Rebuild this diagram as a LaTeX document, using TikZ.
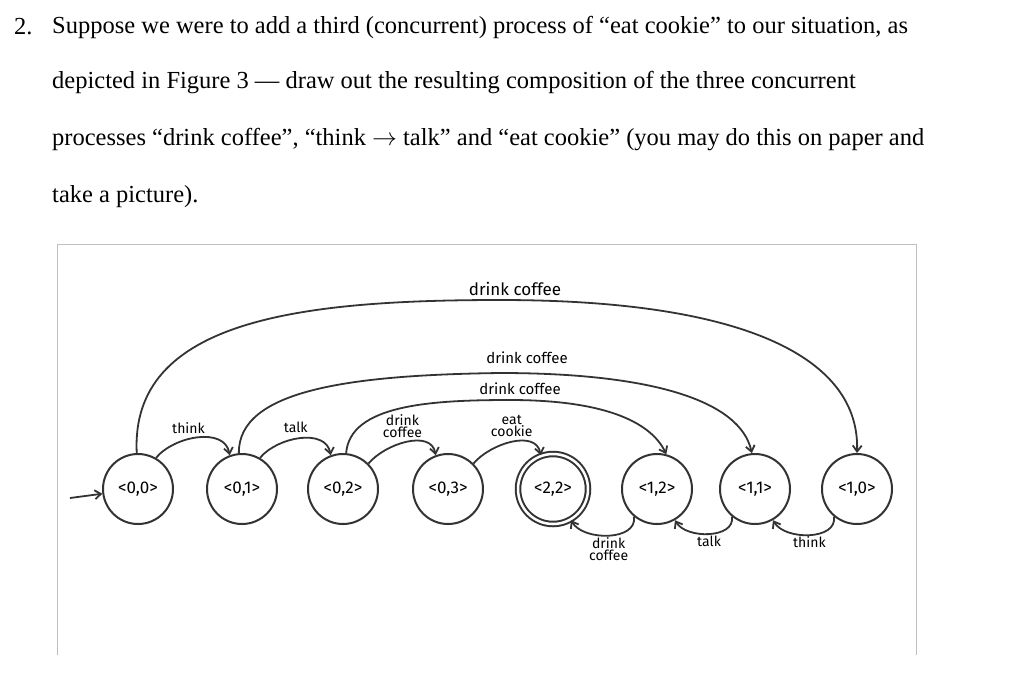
\documentclass[tikz,border=0pt]{standalone}
\usepackage{fontspec}
\setmainfont{Liberation Serif}
\newfontfamily\hand{Fira Sans}
\usetikzlibrary{arrows.meta}
\begin{document}
\begin{tikzpicture}[x=1pt,y=-1pt,
  st/.style={circle,draw=black!80,line width=2pt,minimum size=70pt,inner sep=0pt,font=\hand\fontsize{17}{17}\selectfont},
  acc/.style={st,double,double distance=2.5pt},
  ed/.style={draw=black!80,line width=1.8pt,-{Straight Barb[length=6pt,width=9pt]}},
  lb/.style={font=\hand\fontsize{14}{12}\selectfont,align=center,inner sep=1pt},
  tx/.style={anchor=west,font=\fontsize{24.5}{24.5}\selectfont,inner sep=0pt}]
\useasboundingbox (0,0) rectangle (1024,686);
\node[tx] (l0) at (14,27) {2.};
\node[tx] (l1) at (52,27) {Suppose we were to add a third (concurrent) process of “eat cookie” to our situation, as};
\node[tx] (l2) at (52,83) {depicted in Figure 3 — draw out the resulting composition of the three concurrent};
\node[tx] (l3) at (52,140) {processes “drink coffee”, “think \(\rightarrow\) talk” and “eat cookie” (you may do this on paper and};
\node[tx] (l4) at (52,197) {take a picture).};
\draw[black!25,line width=1pt] (57,655) -- (57,244) -- (916,244) -- (916,655);
\node[st] (a) at (138,489) {<0,0>};
\node[st] (b) at (242,489) {<0,1>};
\node[st] (c) at (343,489) {<0,2>};
\node[st] (d) at (448,489) {<0,3>};
\node[acc] (e) at (553,489) {<2,2>};
\node[st] (f) at (657,489) {<1,2>};
\node[st] (g) at (755,489) {<1,1>};
\node[st] (h) at (857,489) {<1,0>};
\coordinate (in) at (70,498);
\draw[ed] (in) -- (a);
\draw[ed] (a.60) to[out=50,in=100] node[lb,above=4pt,pos=0.4] {think} (b.110);
\draw[ed] (b.60) to[out=50,in=100] node[lb,above=4pt,pos=0.45] {talk} (c.110);
\draw[ed] (c.45) to[out=50,in=100] node[lb,above=3pt,pos=0.45] {drink\\coffee} (d.110);
\draw[ed] (d.45) to[out=50,in=100] node[lb,above=3pt,pos=0.5] {eat\\cookie} (e.110);
\draw[ed] (f.-130) to[out=-80,in=-60] node[lb,below,pos=0.5] {drink\\coffee} (e.-60);
\draw[ed] (g.-130) to[out=-80,in=-60] node[lb,below,pos=0.5] {talk} (f.-60);
\draw[ed] (h.-130) to[out=-80,in=-60] node[lb,below,pos=0.5] {think} (g.-60);
\draw[ed] (a.92) .. controls (130,320) and (300,300) .. (500,300)
  .. controls (750,300) and (860,360) .. (h.90);
\node[lb,font=\hand\fontsize{17}{17}\selectfont] (t1) at (515,289) {drink coffee};
\draw[ed] (b.95) .. controls (238,390) and (350,375) .. (500,373)
  .. controls (650,373) and (740,400) .. (g.95);
\node[lb,font=\hand\fontsize{15}{15}\selectfont] (t2) at (527,358) {drink coffee};
\draw[ed] (c.85) .. controls (350,405) and (430,400) .. (510,400)
  .. controls (600,400) and (650,420) .. (f.75);
\node[lb,font=\hand\fontsize{15}{15}\selectfont] (t3) at (520,389) {drink coffee};
\end{tikzpicture}
\end{document}
